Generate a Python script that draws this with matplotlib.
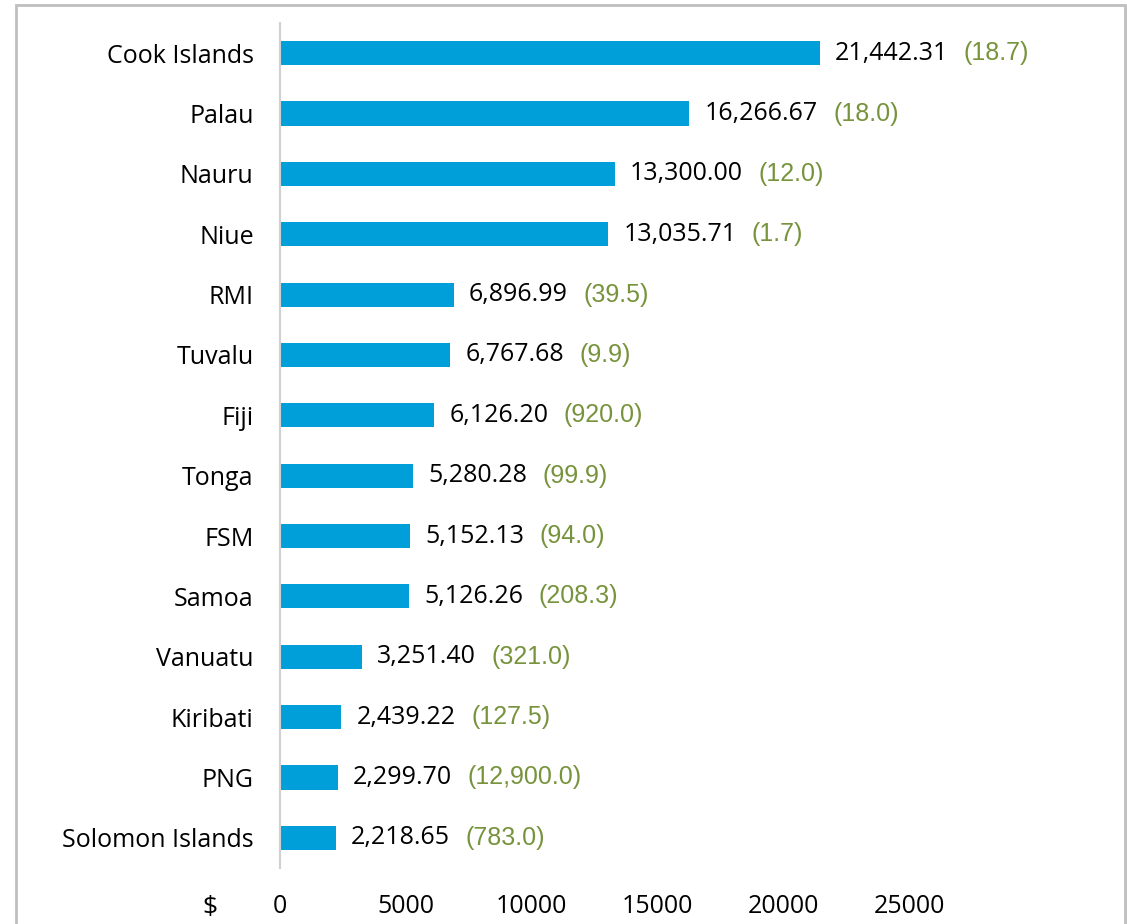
import matplotlib.pyplot as plt
from matplotlib.patches import Rectangle

plt.rcParams['font.family'] = ['Open Sans', 'DejaVu Sans']

# Income per capita ($) and population (thousands) in parentheses
countries = ["Cook Islands", "Palau", "Nauru", "Niue", "RMI", "Tuvalu", "Fiji",
             "Tonga", "FSM", "Samoa", "Vanuatu", "Kiribati", "PNG", "Solomon Islands"]
values = [21442.31, 16266.67, 13300.00, 13035.71, 6896.99, 6767.68, 6126.20,
          5280.28, 5152.13, 5126.26, 3251.40, 2439.22, 2299.70, 2218.65]
population = ["(18.7)", "(18.0)", "(12.0)", "(1.7)", "(39.5)", "(9.9)", "(920.0)",
              "(99.9)", "(94.0)", "(208.3)", "(321.0)", "(127.5)", "(12,900.0)", "(783.0)"]
ticks = [0, 5000, 10000, 15000, 20000, 25000]

bar_color = "#009FDA"
green = "#77933C"
fs = 18

fig = plt.figure(figsize=(11.27, 9.24), dpi=100)
ax = fig.add_axes([0.2485, 0.0606, 0.67, 0.9145])

y = list(range(len(countries)))
ax.barh(y, values, height=0.4, color=bar_color)
ax.set_ylim(len(countries) - 0.5, -0.5)
ax.set_xlim(0, 30000)

ax.set_yticks(y)
ax.set_yticklabels(countries, fontsize=fs)
ax.set_xticks(ticks)
ax.set_xticklabels([str(t) for t in ticks], fontsize=fs)
ax.tick_params(axis="y", length=0, pad=19)
ax.tick_params(axis="x", length=0, pad=19)

for s in ["top", "right", "bottom"]:
    ax.spines[s].set_visible(False)
ax.spines["left"].set_color("#D0D0D0")
ax.spines["left"].set_linewidth(1.5)

for yi, v, p in zip(y, values, population):
    t = ax.annotate(f"{v:,.2f}", xy=(v, yi), xytext=(11, 0), textcoords="offset points",
                    va="center", ha="left", fontsize=fs, color="black")
    ax.annotate(p, xy=(1, 0.5), xycoords=t, xytext=(11, 0), textcoords="offset points",
                va="center", ha="left", fontsize=fs, color=green,
                family=["Liberation Sans", "DejaVu Sans"])

fig.text(210 / 1127, 1 - 908 / 924, "$", fontsize=fs + 1, ha="center", va="center")

# light grey frame around the chart area
fig.patches.append(Rectangle((16 / 1127, -0.05), (1125 - 16) / 1127, 1.05 - 5 / 924,
                             transform=fig.transFigure, fill=False,
                             edgecolor="#BFBFBF", linewidth=2))

fig.savefig("out.png", dpi=100)
